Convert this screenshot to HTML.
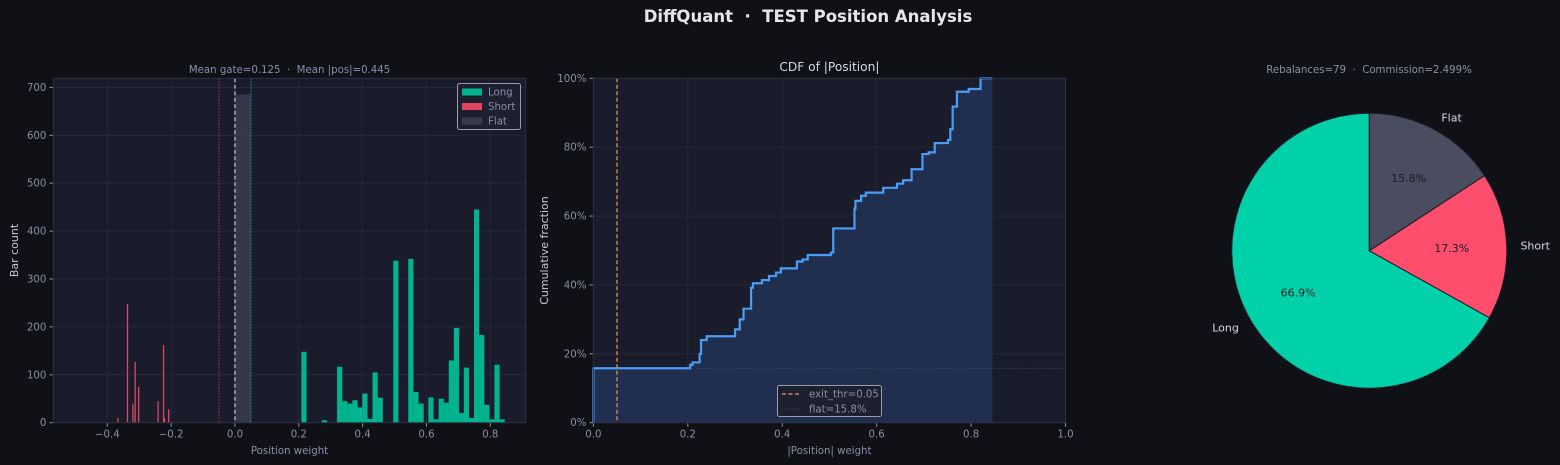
<!DOCTYPE html>
<html><head><meta charset="utf-8">
<style>
html,body{margin:0;padding:0;background:#0f1117;}
svg{display:block;font-family:"DejaVu Sans","Liberation Sans",sans-serif;}
text{white-space:pre;}
</style></head>
<body>
<svg id="chart" width="1560" height="465" viewBox="0 0 1560 465" xmlns="http://www.w3.org/2000/svg">
<rect x="0" y="0" width="1560" height="465" fill="#0f1117"/>
<text x="808" y="22" text-anchor="middle" font-size="16.5" font-weight="bold" fill="#e6e6ea">DiffQuant  ·  TEST Position Analysis</text>
<g id="hist"></g>
<g id="cdf"></g>
<g id="pie"></g>
</svg>
<script>
// ---- histogram data ----
const longBinStarts = [0.208,0.272,0.320,0.336,0.352,0.368,0.383,0.399,0.415,0.431,0.447,0.496,0.543,0.559,0.575,0.606,0.622,0.638,0.654,0.670,0.686,0.701,0.717,0.733,0.749,0.765,0.781,0.797,0.813,0.829];
const longCounts   = [148,5,117,45,40,47,32,61,8,105,52,338,342,64,40,53,7,50,42,130,198,20,115,10,445,183,37,7,121,7];
const shortPositions = [-0.367,-0.337,-0.320,-0.313,-0.302,-0.241,-0.224,-0.221,-0.208];
const shortCounts    = [10,248,40,127,75,45,162,10,28];
const flatCount = 685;
const histXTicks = [-0.4,-0.2,0.0,0.2,0.4,0.6,0.8];
const histYTicks = [0,100,200,300,400,500,600,700];
// ---- CDF data ----
const cdfX = [0,0.205,0.21,0.225,0.228,0.24,0.30,0.31,0.318,0.334,0.338,0.357,0.372,0.387,0.397,0.431,0.443,0.454,0.503,0.508,0.553,0.555,0.567,0.577,0.614,0.643,0.656,0.674,0.697,0.71,0.723,0.751,0.756,0.761,0.77,0.795,0.82];
const cdfY = [0.158,0.168,0.175,0.20,0.24,0.251,0.271,0.30,0.331,0.392,0.405,0.414,0.426,0.436,0.448,0.468,0.474,0.487,0.494,0.564,0.622,0.644,0.659,0.668,0.682,0.694,0.704,0.736,0.78,0.785,0.812,0.821,0.852,0.918,0.961,0.969,1.0];
const cdfXTicks = [0,0.2,0.4,0.6,0.8,1.0];
const cdfYTicks = [0,0.2,0.4,0.6,0.8,1.0];
// ---- pie data ----
const pieLabels = ["Long","Short","Flat"];
const pieValues = [66.9,17.3,15.8];

const NS="http://www.w3.org/2000/svg";
function mk(parent,tag,attrs,text){const e=document.createElementNS(NS,tag);for(const k in attrs)e.setAttribute(k,attrs[k]);if(text!==undefined)e.textContent=text;parent.appendChild(e);return e;}
const tickCol="#8a8ea3", gridCol="#262a3b", spineCol="#2c3043";
const TF=10.2;

// ===== Histogram =====
(function(){
 const g=document.getElementById('hist');
 const L=53.4,R=525.7,T=78.3,B=422.7;
 const xmin=-0.569,xmax=0.911,ymax=719;
 const X=v=>L+(v-xmin)/(xmax-xmin)*(R-L);
 const Y=v=>B-v/ymax*(B-T);
 let e=mk(g,'rect',{x:L,y:T,width:R-L,height:B-T,fill:'#1a1c2c'});
 
 
 histXTicks.forEach(t=>{
  e=mk(g,'line',{x1:X(t),x2:X(t),y1:T,y2:B,stroke:gridCol,'stroke-width':0.8});
  
  mk(g,'line',{x1:X(t),x2:X(t),y1:B,y2:B+4,stroke:tickCol});
  e=mk(g,'text',{x:X(t),y:B+15,'text-anchor':'middle','font-size':TF,fill:tickCol},(t<0?'\u2212'+Math.abs(t).toFixed(1):t.toFixed(1)));
  
 });
 histYTicks.forEach(t=>{
  e=mk(g,'line',{x1:L,x2:R,y1:Y(t),y2:Y(t),stroke:gridCol,'stroke-width':0.8});
  
  mk(g,'line',{x1:L-4,x2:L,y1:Y(t),y2:Y(t),stroke:tickCol});
  e=mk(g,'text',{x:L-7,y:Y(t)+3.5,'text-anchor':'end','font-size':TF,fill:tickCol},String(t));
  
 });
 e=mk(g,'rect',{x:X(0),y:Y(flatCount),width:X(0.05)-X(0),height:B-Y(flatCount),fill:'#3a3d50',opacity:0.85});
 
 const bw=0.0163;
 longBinStarts.forEach((s,i)=>{
  e=mk(g,'rect',{x:X(s),y:Y(longCounts[i]),width:X(s+bw)-X(s),height:B-Y(longCounts[i]),fill:'#00b48f'});
  
 });
 shortPositions.forEach((s,i)=>{
  e=mk(g,'rect',{x:X(s)-0.6,y:Y(shortCounts[i]),width:1.3,height:B-Y(shortCounts[i]),fill:'#e0455f'});
  
 });
 e=mk(g,'line',{x1:X(-0.05),x2:X(-0.05),y1:T,y2:B,stroke:'#b3304a','stroke-width':1,'stroke-dasharray':'1.5,1.5'});
 
 e=mk(g,'line',{x1:X(0),x2:X(0),y1:T,y2:B,stroke:'#c8c8d0','stroke-width':1.2,'stroke-dasharray':'4,2.5'});
 
 e=mk(g,'line',{x1:X(0.05),x2:X(0.05),y1:T,y2:B,stroke:'#12a383','stroke-width':1,'stroke-dasharray':'1.5,1.5'});
 
 mk(g,'rect',{x:L,y:T,width:R-L,height:B-T,fill:'none',stroke:spineCol});
 e=mk(g,'text',{x:(L+R)/2,y:73,'text-anchor':'middle','font-size':TF,fill:tickCol},'Mean gate=0.125  ·  Mean |pos|=0.445');
 
 e=mk(g,'text',{x:(L+R)/2,y:454,'text-anchor':'middle','font-size':TF,fill:tickCol},'Position weight');
 
 e=mk(g,'text',{x:18,y:(T+B)/2,'text-anchor':'middle','font-size':11,fill:'#c8cad6',transform:'rotate(-90 18 '+(T+B)/2+')'},'Bar count');
 
 const lg=mk(g,'g',{});
 
 mk(lg,'rect',{x:457.5,y:83.5,width:63,height:46,rx:2,fill:'#1e2030',stroke:'#9a9cab','stroke-width':1});
 [['Long','#00b48f'],['Short','#e0455f'],['Flat','#363a4d']].forEach((it,i)=>{
  const y=92+i*14.5;
  e=mk(lg,'rect',{x:462,y:y-3.5,width:20,height:7,fill:it[1]});
  
  e=mk(lg,'text',{x:488,y:y+3.5,'font-size':TF,fill:tickCol},it[0]);
  
 });
})();

// ===== CDF =====
(function(){
 const g=document.getElementById('cdf');
 const L=593.4,R=1065.5,T=78.3,B=422.7;
 const X=v=>L+v*(R-L);
 const Y=v=>B-v*(B-T);
 let e=mk(g,'rect',{x:L,y:T,width:R-L,height:B-T,fill:'#1a1c2c'});
 
 cdfXTicks.forEach(t=>{
  e=mk(g,'line',{x1:X(t),x2:X(t),y1:T,y2:B,stroke:gridCol,'stroke-width':0.8});
  
  mk(g,'line',{x1:X(t),x2:X(t),y1:B,y2:B+4,stroke:tickCol});
  e=mk(g,'text',{x:X(t),y:B+15,'text-anchor':'middle','font-size':TF,fill:tickCol},t.toFixed(1));
  
 });
 cdfYTicks.forEach(t=>{
  e=mk(g,'line',{x1:L,x2:R,y1:Y(t),y2:Y(t),stroke:gridCol,'stroke-width':0.8});
  
  mk(g,'line',{x1:L-4,x2:L,y1:Y(t),y2:Y(t),stroke:tickCol});
  e=mk(g,'text',{x:L-7,y:Y(t)+3.5,'text-anchor':'end','font-size':TF,fill:tickCol},Math.round(t*100)+'%');
  
 });
 const endX=0.845;
 let d='M'+X(0)+','+Y(0);
 let line='M'+X(0)+','+Y(0);
 for(let i=0;i<cdfX.length;i++){
  const prev=i===0?0:cdfY[i-1];
  d+=' L'+X(cdfX[i])+','+Y(prev)+' L'+X(cdfX[i])+','+Y(cdfY[i]);
  line+=' L'+X(cdfX[i])+','+Y(prev)+' L'+X(cdfX[i])+','+Y(cdfY[i]);
 }
 d+=' L'+X(endX)+','+Y(cdfY[cdfY.length-1])+' L'+X(endX)+','+Y(0)+' Z';
 line+=' L'+X(endX)+','+Y(cdfY[cdfY.length-1]);
 e=mk(g,'path',{d:d,fill:'#223156',opacity:0.85});
 
 e=mk(g,'line',{x1:L,x2:R,y1:Y(0.158),y2:Y(0.158),stroke:'#4a4e62','stroke-width':0.8,'stroke-dasharray':'1,1.5'});
 
 e=mk(g,'path',{d:line,fill:'none',stroke:'#4b9cf5','stroke-width':2.2});
 
 e=mk(g,'line',{x1:X(0.05),x2:X(0.05),y1:T,y2:B,stroke:'#d9a15a','stroke-width':1.2,'stroke-dasharray':'4,2.5'});
 
 mk(g,'rect',{x:L,y:T,width:R-L,height:B-T,fill:'none',stroke:spineCol});
 e=mk(g,'text',{x:(L+R)/2,y:71,'text-anchor':'middle','font-size':12.2,fill:'#d6d8e2'},'CDF of |Position|');
 
 e=mk(g,'text',{x:(L+R)/2,y:454,'text-anchor':'middle','font-size':TF,fill:tickCol},'|Position| weight');
 
 e=mk(g,'text',{x:548,y:(T+B)/2,'text-anchor':'middle','font-size':11,fill:'#c8cad6',transform:'rotate(-90 548 '+(T+B)/2+')'},'Cumulative fraction');
 
 const lg=mk(g,'g',{});
 
 mk(lg,'rect',{x:777.5,y:385.5,width:104,height:31,rx:2,fill:'#1e2030',stroke:'#9a9cab','stroke-width':1});
 mk(lg,'line',{x1:782,x2:800,y1:394,y2:394,stroke:'#d9a15a','stroke-width':1.2,'stroke-dasharray':'4,2.5'});
 e=mk(lg,'text',{x:809,y:397.5,'font-size':TF,fill:tickCol},'exit_thr=0.05');
 
 mk(lg,'line',{x1:782,x2:800,y1:409,y2:409,stroke:'#4a4e62','stroke-width':0.8,'stroke-dasharray':'1,1.5'});
 e=mk(lg,'text',{x:809,y:412.5,'font-size':TF,fill:tickCol},'flat=15.8%');
 
})();

// ===== Pie =====
(function(){
 const g=document.getElementById('pie');
 const cx=1369.3,cy=250.7,r=137.5;
 const cols=['#00d1a8','#ff4d6d','#4a4d60'];
 const total=pieValues.reduce((a,b)=>a+b,0);
 let a0=90;
 pieValues.forEach((v,i)=>{
  const sweep=v/total*360, a1=a0+sweep;
  const p=a=>[cx+r*Math.cos(a*Math.PI/180), cy-r*Math.sin(a*Math.PI/180)];
  const s=p(a0), en=p(a1);
  let e=mk(g,'path',{d:`M${cx},${cy} L${s[0]},${s[1]} A${r},${r} 0 ${sweep>180?1:0} 0 ${en[0]},${en[1]} Z`,fill:cols[i],stroke:'#1a1c26','stroke-width':1});
  
  
  const mid=(a0+a1)/2*Math.PI/180;
  e=mk(g,'text',{x:cx+1.1*r*Math.cos(mid),y:cy-1.1*r*Math.sin(mid)+4,'text-anchor':Math.cos(mid)<-0.1?'end':(Math.cos(mid)>0.1?'start':'middle'),'font-size':11,fill:'#d6d8e2'},pieLabels[i]);
  
  
  e=mk(g,'text',{x:cx+0.6*r*Math.cos(mid),y:cy-0.6*r*Math.sin(mid)+4,'text-anchor':'middle','font-size':11,fill:'#1a1c26'},v.toFixed(1)+'%');
  
  
  a0=a1;
 });
 let e=mk(g,'text',{x:1369,y:73,'text-anchor':'middle','font-size':TF,fill:tickCol},'Rebalances=79  ·  Commission=2.499%');
 
})();
</script>
</body></html>
